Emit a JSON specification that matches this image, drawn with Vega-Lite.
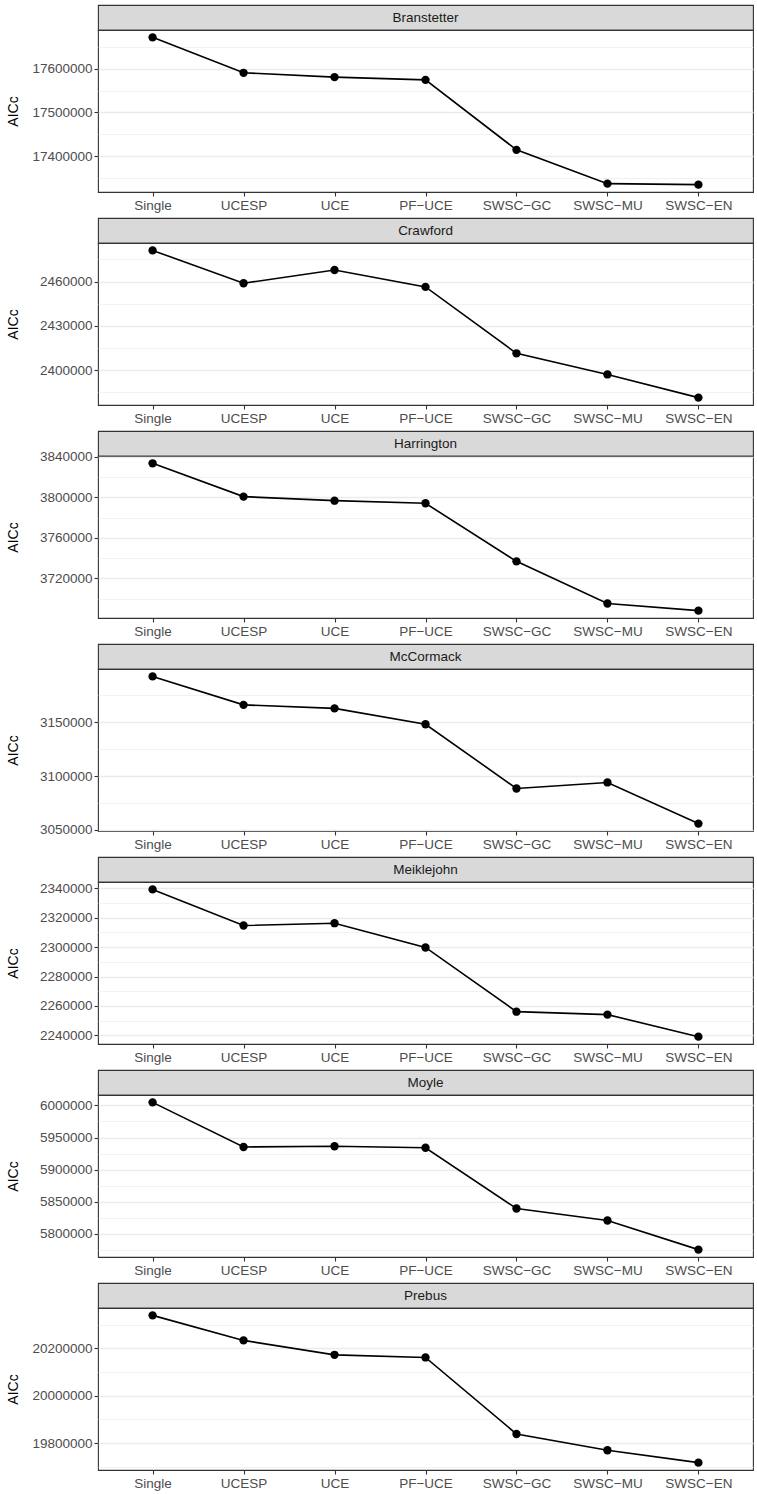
{
  "$schema": "https://vega.github.io/schema/vega-lite/v6.json",
  "padding": {"left": 5, "top": 4, "right": 5, "bottom": 4},
  "background": "white",
  "spacing": 4,
  "datasets": {
    "aicc": [
      {"site": "Branstetter", "method": "Single", "aicc": 17672000},
      {"site": "Branstetter", "method": "UCESP", "aicc": 17590800},
      {"site": "Branstetter", "method": "UCE", "aicc": 17580900},
      {"site": "Branstetter", "method": "PF−UCE", "aicc": 17574700},
      {"site": "Branstetter", "method": "SWSC−GC", "aicc": 17414500},
      {"site": "Branstetter", "method": "SWSC−MU", "aicc": 17337200},
      {"site": "Branstetter", "method": "SWSC−EN", "aicc": 17334900},
      {"site": "Crawford", "method": "Single", "aicc": 2481100},
      {"site": "Crawford", "method": "UCESP", "aicc": 2458900},
      {"site": "Crawford", "method": "UCE", "aicc": 2467800},
      {"site": "Crawford", "method": "PF−UCE", "aicc": 2456400},
      {"site": "Crawford", "method": "SWSC−GC", "aicc": 2411400},
      {"site": "Crawford", "method": "SWSC−MU", "aicc": 2397100},
      {"site": "Crawford", "method": "SWSC−EN", "aicc": 2381400},
      {"site": "Harrington", "method": "Single", "aicc": 3833500},
      {"site": "Harrington", "method": "UCESP", "aicc": 3800700},
      {"site": "Harrington", "method": "UCE", "aicc": 3796700},
      {"site": "Harrington", "method": "PF−UCE", "aicc": 3794100},
      {"site": "Harrington", "method": "SWSC−GC", "aicc": 3736900},
      {"site": "Harrington", "method": "SWSC−MU", "aicc": 3695300},
      {"site": "Harrington", "method": "SWSC−EN", "aicc": 3688300},
      {"site": "McCormack", "method": "Single", "aicc": 3192500},
      {"site": "McCormack", "method": "UCESP", "aicc": 3166100},
      {"site": "McCormack", "method": "UCE", "aicc": 3162800},
      {"site": "McCormack", "method": "PF−UCE", "aicc": 3148100},
      {"site": "McCormack", "method": "SWSC−GC", "aicc": 3088500},
      {"site": "McCormack", "method": "SWSC−MU", "aicc": 3094100},
      {"site": "McCormack", "method": "SWSC−EN", "aicc": 3055900},
      {"site": "Meiklejohn", "method": "Single", "aicc": 2339300},
      {"site": "Meiklejohn", "method": "UCESP", "aicc": 2314700},
      {"site": "Meiklejohn", "method": "UCE", "aicc": 2316300},
      {"site": "Meiklejohn", "method": "PF−UCE", "aicc": 2299800},
      {"site": "Meiklejohn", "method": "SWSC−GC", "aicc": 2256100},
      {"site": "Meiklejohn", "method": "SWSC−MU", "aicc": 2254100},
      {"site": "Meiklejohn", "method": "SWSC−EN", "aicc": 2239100},
      {"site": "Moyle", "method": "Single", "aicc": 6004700},
      {"site": "Moyle", "method": "UCESP", "aicc": 5935300},
      {"site": "Moyle", "method": "UCE", "aicc": 5936400},
      {"site": "Moyle", "method": "PF−UCE", "aicc": 5934000},
      {"site": "Moyle", "method": "SWSC−GC", "aicc": 5839500},
      {"site": "Moyle", "method": "SWSC−MU", "aicc": 5820800},
      {"site": "Moyle", "method": "SWSC−EN", "aicc": 5775500},
      {"site": "Prebus", "method": "Single", "aicc": 20339800},
      {"site": "Prebus", "method": "UCESP", "aicc": 20233900},
      {"site": "Prebus", "method": "UCE", "aicc": 20172900},
      {"site": "Prebus", "method": "PF−UCE", "aicc": 20161900},
      {"site": "Prebus", "method": "SWSC−GC", "aicc": 19838100},
      {"site": "Prebus", "method": "SWSC−MU", "aicc": 19769100},
      {"site": "Prebus", "method": "SWSC−EN", "aicc": 19716900}
    ],
    "sites": [
      {"site": "Branstetter"}, {"site": "Crawford"}, {"site": "Harrington"},
      {"site": "McCormack"}, {"site": "Meiklejohn"}, {"site": "Moyle"}, {"site": "Prebus"}
    ]
  },
  "vconcat": [
    {"spacing": 0, "bounds": "flush", "vconcat": [
      {"width": 655, "height": 25, "data": {"name": "sites"}, "transform": [{"filter": "datum.site === 'Branstetter'"}],
       "view": {"fill": "#d9d9d9", "stroke": "#333333", "strokeWidth": 1.1},
       "mark": {"type": "text", "fontSize": 13.5, "color": "#1a1a1a"}, "encoding": {"text": {"field": "site"}}},
      {"width": 655, "height": 162, "data": {"name": "aicc"}, "transform": [{"filter": "datum.site === 'Branstetter'"}],
       "encoding": {
         "x": {"field": "method", "type": "ordinal", "title": null, "sort": ["Single", "UCESP", "UCE", "PF−UCE", "SWSC−GC", "SWSC−MU", "SWSC−EN"], "scale": {"type": "point", "padding": 0.6}},
         "y": {"field": "aicc", "type": "quantitative", "title": "AICc", "scale": {"domain": [17318047, 17688808], "nice": false, "zero": false},
               "axis": {"values": [17350000, 17400000, 17450000, 17500000, 17550000, 17600000, 17650000],
                        "labelExpr": "datum.value % 100000 === 0 ? datum.label : ''",
                        "tickOpacity": {"condition": {"test": "datum.value % 100000 === 0", "value": 1}, "value": 0},
                        "gridWidth": {"condition": {"test": "datum.value % 100000 === 0", "value": 1.3}, "value": 0.7}}}
       },
       "layer": [
         {"mark": {"type": "line", "color": "black", "strokeWidth": 1.6}},
         {"mark": {"type": "point", "filled": true, "color": "black", "size": 70, "opacity": 1}}
       ]}
    ]},
    {"spacing": 0, "bounds": "flush", "vconcat": [
      {"width": 655, "height": 25, "data": {"name": "sites"}, "transform": [{"filter": "datum.site === 'Crawford'"}],
       "view": {"fill": "#d9d9d9", "stroke": "#333333", "strokeWidth": 1.1},
       "mark": {"type": "text", "fontSize": 13.5, "color": "#1a1a1a"}, "encoding": {"text": {"field": "site"}}},
      {"width": 655, "height": 162, "data": {"name": "aicc"}, "transform": [{"filter": "datum.site === 'Crawford'"}],
       "encoding": {
         "x": {"field": "method", "type": "ordinal", "title": null, "sort": ["Single", "UCESP", "UCE", "PF−UCE", "SWSC−GC", "SWSC−MU", "SWSC−EN"], "scale": {"type": "point", "padding": 0.6}},
         "y": {"field": "aicc", "type": "quantitative", "title": "AICc", "scale": {"domain": [2376400, 2486123], "nice": false, "zero": false},
               "axis": {"values": [2385000, 2400000, 2415000, 2430000, 2445000, 2460000, 2475000],
                        "labelExpr": "datum.value % 30000 === 0 ? datum.label : ''",
                        "tickOpacity": {"condition": {"test": "datum.value % 30000 === 0", "value": 1}, "value": 0},
                        "gridWidth": {"condition": {"test": "datum.value % 30000 === 0", "value": 1.3}, "value": 0.7}}}
       },
       "layer": [
         {"mark": {"type": "line", "color": "black", "strokeWidth": 1.6}},
         {"mark": {"type": "point", "filled": true, "color": "black", "size": 70, "opacity": 1}}
       ]}
    ]},
    {"spacing": 0, "bounds": "flush", "vconcat": [
      {"width": 655, "height": 25, "data": {"name": "sites"}, "transform": [{"filter": "datum.site === 'Harrington'"}],
       "view": {"fill": "#d9d9d9", "stroke": "#333333", "strokeWidth": 1.1},
       "mark": {"type": "text", "fontSize": 13.5, "color": "#1a1a1a"}, "encoding": {"text": {"field": "site"}}},
      {"width": 655, "height": 162, "data": {"name": "aicc"}, "transform": [{"filter": "datum.site === 'Harrington'"}],
       "encoding": {
         "x": {"field": "method", "type": "ordinal", "title": null, "sort": ["Single", "UCESP", "UCE", "PF−UCE", "SWSC−GC", "SWSC−MU", "SWSC−EN"], "scale": {"type": "point", "padding": 0.6}},
         "y": {"field": "aicc", "type": "quantitative", "title": "AICc", "scale": {"domain": [3681063, 3840723], "nice": false, "zero": false},
               "axis": {"values": [3700000, 3720000, 3740000, 3760000, 3780000, 3800000, 3820000, 3840000],
                        "labelExpr": "datum.value % 40000 === 0 ? datum.label : ''",
                        "tickOpacity": {"condition": {"test": "datum.value % 40000 === 0", "value": 1}, "value": 0},
                        "gridWidth": {"condition": {"test": "datum.value % 40000 === 0", "value": 1.3}, "value": 0.7}}}
       },
       "layer": [
         {"mark": {"type": "line", "color": "black", "strokeWidth": 1.6}},
         {"mark": {"type": "point", "filled": true, "color": "black", "size": 70, "opacity": 1}}
       ]}
    ]},
    {"spacing": 0, "bounds": "flush", "vconcat": [
      {"width": 655, "height": 25, "data": {"name": "sites"}, "transform": [{"filter": "datum.site === 'McCormack'"}],
       "view": {"fill": "#d9d9d9", "stroke": "#333333", "strokeWidth": 1.1},
       "mark": {"type": "text", "fontSize": 13.5, "color": "#1a1a1a"}, "encoding": {"text": {"field": "site"}}},
      {"width": 655, "height": 162, "data": {"name": "aicc"}, "transform": [{"filter": "datum.site === 'McCormack'"}],
       "encoding": {
         "x": {"field": "method", "type": "ordinal", "title": null, "sort": ["Single", "UCESP", "UCE", "PF−UCE", "SWSC−GC", "SWSC−MU", "SWSC−EN"], "scale": {"type": "point", "padding": 0.6}},
         "y": {"field": "aicc", "type": "quantitative", "title": "AICc", "scale": {"domain": [3049031, 3199381], "nice": false, "zero": false},
               "axis": {"values": [3050000, 3075000, 3100000, 3125000, 3150000, 3175000],
                        "labelExpr": "datum.value % 50000 === 0 ? datum.label : ''",
                        "tickOpacity": {"condition": {"test": "datum.value % 50000 === 0", "value": 1}, "value": 0},
                        "gridWidth": {"condition": {"test": "datum.value % 50000 === 0", "value": 1.3}, "value": 0.7}}}
       },
       "layer": [
         {"mark": {"type": "line", "color": "black", "strokeWidth": 1.6}},
         {"mark": {"type": "point", "filled": true, "color": "black", "size": 70, "opacity": 1}}
       ]}
    ]},
    {"spacing": 0, "bounds": "flush", "vconcat": [
      {"width": 655, "height": 25, "data": {"name": "sites"}, "transform": [{"filter": "datum.site === 'Meiklejohn'"}],
       "view": {"fill": "#d9d9d9", "stroke": "#333333", "strokeWidth": 1.1},
       "mark": {"type": "text", "fontSize": 13.5, "color": "#1a1a1a"}, "encoding": {"text": {"field": "site"}}},
      {"width": 655, "height": 162, "data": {"name": "aicc"}, "transform": [{"filter": "datum.site === 'Meiklejohn'"}],
       "encoding": {
         "x": {"field": "method", "type": "ordinal", "title": null, "sort": ["Single", "UCESP", "UCE", "PF−UCE", "SWSC−GC", "SWSC−MU", "SWSC−EN"], "scale": {"type": "point", "padding": 0.6}},
         "y": {"field": "aicc", "type": "quantitative", "title": "AICc", "scale": {"domain": [2234102, 2344327], "nice": false, "zero": false},
               "axis": {"values": [2240000, 2250000, 2260000, 2270000, 2280000, 2290000, 2300000, 2310000, 2320000, 2330000, 2340000],
                        "labelExpr": "datum.value % 20000 === 0 ? datum.label : ''",
                        "tickOpacity": {"condition": {"test": "datum.value % 20000 === 0", "value": 1}, "value": 0},
                        "gridWidth": {"condition": {"test": "datum.value % 20000 === 0", "value": 1.3}, "value": 0.7}}}
       },
       "layer": [
         {"mark": {"type": "line", "color": "black", "strokeWidth": 1.6}},
         {"mark": {"type": "point", "filled": true, "color": "black", "size": 70, "opacity": 1}}
       ]}
    ]},
    {"spacing": 0, "bounds": "flush", "vconcat": [
      {"width": 655, "height": 25, "data": {"name": "sites"}, "transform": [{"filter": "datum.site === 'Moyle'"}],
       "view": {"fill": "#d9d9d9", "stroke": "#333333", "strokeWidth": 1.1},
       "mark": {"type": "text", "fontSize": 13.5, "color": "#1a1a1a"}, "encoding": {"text": {"field": "site"}}},
      {"width": 655, "height": 162, "data": {"name": "aicc"}, "transform": [{"filter": "datum.site === 'Moyle'"}],
       "encoding": {
         "x": {"field": "method", "type": "ordinal", "title": null, "sort": ["Single", "UCESP", "UCE", "PF−UCE", "SWSC−GC", "SWSC−MU", "SWSC−EN"], "scale": {"type": "point", "padding": 0.6}},
         "y": {"field": "aicc", "type": "quantitative", "title": "AICc", "scale": {"domain": [5764008, 6016149], "nice": false, "zero": false},
               "axis": {"values": [5775000, 5800000, 5825000, 5850000, 5875000, 5900000, 5925000, 5950000, 5975000, 6000000],
                        "labelExpr": "datum.value % 50000 === 0 ? datum.label : ''",
                        "tickOpacity": {"condition": {"test": "datum.value % 50000 === 0", "value": 1}, "value": 0},
                        "gridWidth": {"condition": {"test": "datum.value % 50000 === 0", "value": 1.3}, "value": 0.7}}}
       },
       "layer": [
         {"mark": {"type": "line", "color": "black", "strokeWidth": 1.6}},
         {"mark": {"type": "point", "filled": true, "color": "black", "size": 70, "opacity": 1}}
       ]}
    ]},
    {"spacing": 0, "bounds": "flush", "vconcat": [
      {"width": 655, "height": 25, "data": {"name": "sites"}, "transform": [{"filter": "datum.site === 'Prebus'"}],
       "view": {"fill": "#d9d9d9", "stroke": "#333333", "strokeWidth": 1.1},
       "mark": {"type": "text", "fontSize": 13.5, "color": "#1a1a1a"}, "encoding": {"text": {"field": "site"}}},
      {"width": 655, "height": 162, "data": {"name": "aicc"}, "transform": [{"filter": "datum.site === 'Prebus'"}],
       "encoding": {
         "x": {"field": "method", "type": "ordinal", "title": null, "sort": ["Single", "UCESP", "UCE", "PF−UCE", "SWSC−GC", "SWSC−MU", "SWSC−EN"], "scale": {"type": "point", "padding": 0.6}},
         "y": {"field": "aicc", "type": "quantitative", "title": "AICc", "scale": {"domain": [19685805, 20370975], "nice": false, "zero": false},
               "axis": {"values": [19700000, 19800000, 19900000, 20000000, 20100000, 20200000, 20300000],
                        "labelExpr": "datum.value % 200000 === 0 ? datum.label : ''",
                        "tickOpacity": {"condition": {"test": "datum.value % 200000 === 0", "value": 1}, "value": 0},
                        "gridWidth": {"condition": {"test": "datum.value % 200000 === 0", "value": 1.3}, "value": 0.7}}}
       },
       "layer": [
         {"mark": {"type": "line", "color": "black", "strokeWidth": 1.6}},
         {"mark": {"type": "point", "filled": true, "color": "black", "size": 70, "opacity": 1}}
       ]}
    ]}
  ],
  "config": {
    "font": "Liberation Sans",
    "view": {"stroke": "#333333", "strokeWidth": 1.1},
    "axis": {
      "domain": false,
      "tickColor": "#333333",
      "tickSize": 4,
      "tickWidth": 1.1,
      "labelPadding": 2,
      "labelFontSize": 13.5,
      "labelColor": "#4d4d4d",
      "gridColor": "#ebebeb",
      "titleFontSize": 14,
      "titleFontWeight": "normal",
      "titleColor": "#000000"
    },
    "axisX": {"labelAngle": 0, "gridWidth": 1.3},
    "axisY": {"minExtent": 70, "maxExtent": 70, "titlePadding": 8, "format": "d"}
  }
}
